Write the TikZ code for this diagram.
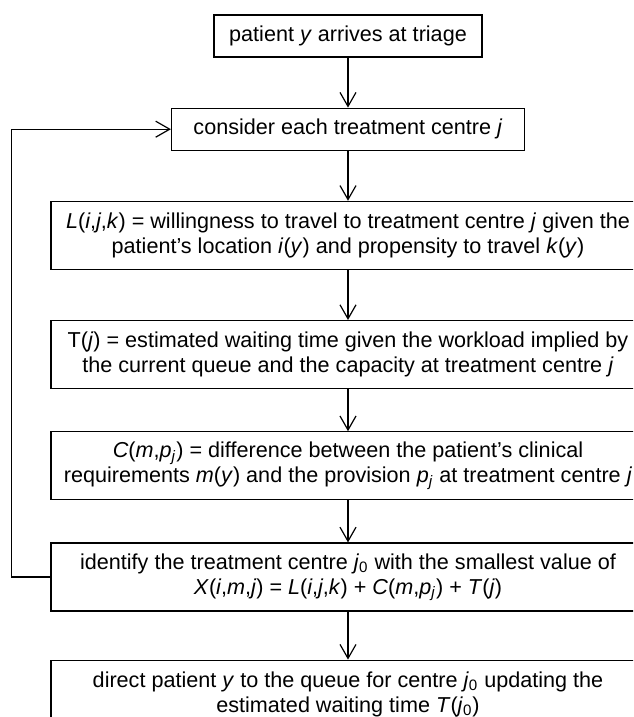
\documentclass[tikz,border=0pt]{standalone}
\usepackage{fontspec}
\setmainfont{Liberation Sans}
\usepackage{tikz}
\usetikzlibrary{arrows.meta,positioning}
\tikzset{
  box/.style={draw, line width=0.6pt, minimum height=21pt, inner sep=0pt, align=center,
              font=\fontsize{10.8}{12.5}\selectfont},
  widebox/.style={box, minimum width=297pt, minimum height=34pt},
  flow/.style={-{Straight Barb[length=7pt,width=8pt]}, line width=0.6pt}
}

\begin{document}
\begin{tikzpicture}[node distance=25pt]
  \useasboundingbox (0,0) rectangle (316.5pt,-358.5pt);
  \clip (0,0) rectangle (316.5pt,-358.5pt);
  \node[box, minimum width=134pt] (arrive) at (174pt,-18pt) {patient \textit{y} arrives at triage};
  \node[box, minimum width=176.5pt, below=of arrive] (consider) {consider each treatment centre \textit{j}};
  \node[widebox, below=of consider] (travel) {\textit{L}(\textit{i},\textit{j},\textit{k}) = willingness to travel to treatment centre \textit{j} given the\\
    patient's location \textit{i}(\textit{y}) and propensity to travel \textit{k}(\textit{y})};
  \node[widebox, below=of travel] (wait) {T(\textit{j}) = estimated waiting time given the workload implied by\\
    the current queue and the capacity at treatment centre \textit{j}};
  \node[widebox, below=21pt of wait] (clinic) {\textit{C}(\textit{m},\textit{p}\textsubscript{\textit{j}}) = difference between the patient's clinical\\
    requirements \textit{m}(\textit{y}) and the provision \textit{p}\textsubscript{\textit{j}} at treatment centre \textit{j}};
  \node[widebox, below=21pt of clinic] (choose) {identify the treatment centre \textit{j}\textsubscript{0} with the smallest value of\\
    \textit{X}(\textit{i},\textit{m},\textit{j}) = \textit{L}(\textit{i},\textit{j},\textit{k}) + \textit{C}(\textit{m},\textit{p}\textsubscript{\textit{j}}) + \textit{T}(\textit{j})};
  \node[widebox, below=24pt of choose] (direct) {direct patient \textit{y} to the queue for centre \textit{j}\textsubscript{0} updating the\\
    estimated waiting time \textit{T}(\textit{j}\textsubscript{0})};
  \draw[flow] (arrive) -- (consider);
  \draw[flow] (consider) -- (travel);
  \draw[flow] (travel) -- (wait);
  \draw[flow] (wait) -- (clinic);
  \draw[flow] (clinic) -- (choose);
  \draw[flow] (choose) -- (direct);
  \draw[flow] (choose.west) -- ++(-19.5pt,0) |- (consider.west);
\end{tikzpicture}
\end{document}
